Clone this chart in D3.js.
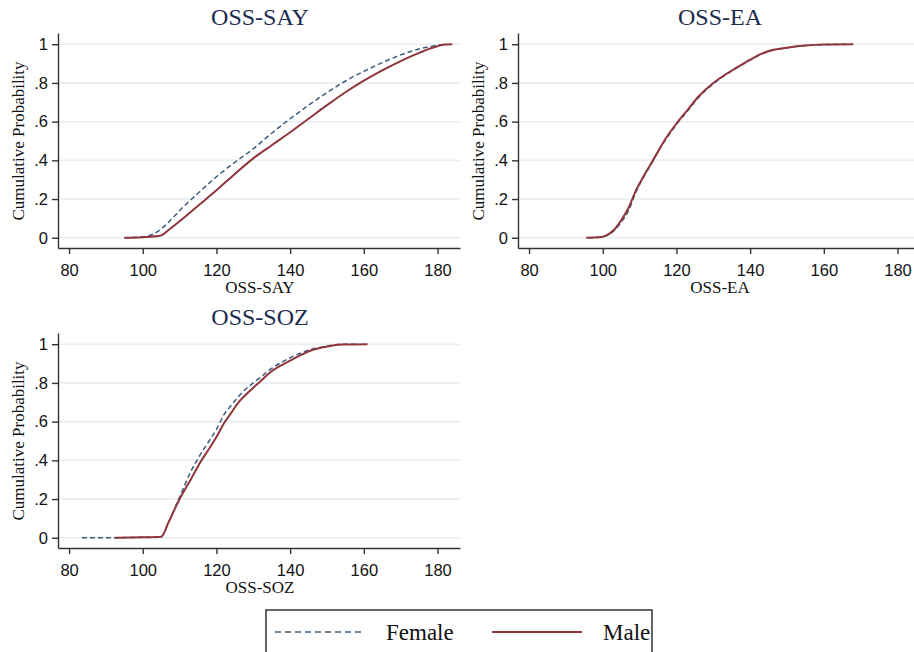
<!DOCTYPE html>
<html>
<head>
<meta charset="utf-8">
<script src="https://cdn.jsdelivr.net/npm/d3@7"></script>
<style>
  body { margin: 0; background: #fff; }
  svg { display: block; font-family: "Liberation Serif", "Times New Roman", serif; }
</style>
</head>
<body>
<div id="chart"></div>
<script>
// ticks shared by all three panels
const xTicks = [80, 100, 120, 140, 160, 180];
const yTicks = [0, 0.2, 0.4, 0.6, 0.8, 1];
const yTickLabels = ["0", ".2", ".4", ".6", ".8", "1"];

const panelNames = ["OSS-SAY", "OSS-EA", "OSS-SOZ"];
const seriesNames = ["Female", "Male"];

// OSS-SAY
const sayFemaleX = [95, 100, 103, 105, 108, 110, 115, 120, 125, 130, 135, 140, 145, 150, 155, 160, 165, 170, 175, 180, 182];
const sayFemaleP = [0, 0.005, 0.02, 0.045, 0.1, 0.14, 0.23, 0.315, 0.39, 0.46, 0.54, 0.615, 0.685, 0.75, 0.81, 0.86, 0.905, 0.945, 0.975, 0.995, 1];
const sayMaleX = [95, 100, 105, 107, 110, 115, 120, 125, 130, 135, 140, 145, 150, 155, 160, 165, 170, 175, 178, 180, 182, 184];
const sayMaleP = [0, 0.003, 0.012, 0.04, 0.085, 0.165, 0.245, 0.33, 0.41, 0.478, 0.545, 0.615, 0.685, 0.752, 0.812, 0.865, 0.913, 0.955, 0.978, 0.99, 0.998, 1];

// OSS-EA
const eaFemaleX = [96, 99, 101, 103, 105, 107, 109, 111, 113, 115, 117, 120, 123, 126, 130, 133, 136, 140, 143, 146, 150, 155, 160, 166];
const eaFemaleP = [0, 0.002, 0.01, 0.035, 0.08, 0.14, 0.235, 0.31, 0.375, 0.445, 0.505, 0.585, 0.655, 0.725, 0.795, 0.838, 0.873, 0.918, 0.948, 0.968, 0.982, 0.993, 0.998, 1];
const eaMaleX = [95.5, 99, 101, 103, 105, 107, 109, 111, 113, 115, 117, 120, 123, 126, 130, 133, 136, 140, 143, 146, 150, 155, 160, 168];
const eaMaleP = [0, 0.002, 0.012, 0.04, 0.09, 0.155, 0.245, 0.315, 0.38, 0.445, 0.51, 0.59, 0.66, 0.73, 0.8, 0.84, 0.875, 0.92, 0.95, 0.97, 0.982, 0.993, 0.998, 1];

// OSS-SOZ
const sozFemaleX = [83.5, 90, 100, 105, 107, 110, 113, 115, 118, 120, 122, 124, 126, 128, 130, 132, 135, 138, 140, 143, 146, 150, 154, 158];
const sozFemaleP = [0, 0, 0.002, 0.005, 0.08, 0.21, 0.34, 0.41, 0.5, 0.56, 0.635, 0.685, 0.73, 0.77, 0.8, 0.83, 0.875, 0.91, 0.93, 0.955, 0.975, 0.99, 1, 1];
const sozMaleX = [92.5, 100, 105, 107, 110, 113, 115, 118, 120, 122, 124, 126, 128, 130, 132, 135, 138, 140, 143, 146, 150, 154, 161];
const sozMaleP = [0, 0.002, 0.005, 0.08, 0.2, 0.3, 0.37, 0.46, 0.52, 0.59, 0.645, 0.7, 0.74, 0.775, 0.81, 0.86, 0.895, 0.915, 0.945, 0.97, 0.988, 0.998, 1];

const panelSeries = [
    [[sayFemaleX, sayFemaleP], [sayMaleX, sayMaleP]],
    [[eaFemaleX, eaFemaleP], [eaMaleX, eaMaleP]],
    [[sozFemaleX, sozFemaleP], [sozMaleX, sozMaleP]]
];

const width = 914;
const height = 652;
const colors = ["#3e5d7e", "#90353b"];
const dashes = ["5,3", null];
const strokeW = [1.5, 2];

// panel placement (plot area top-left)
const panelPos = [{ x: 58, y: 33 }, { x: 518, y: 33 }, { x: 58, y: 333 }];
const plotW = 402;
const plotH = 215;

const svg = d3.select("#chart")
    .append("svg")
    .attr("width", width)
    .attr("height", height)
    .attr("viewBox", `0 0 ${width} ${height}`);

const xScale = d3.scaleLinear().domain([77, 186.1]).range([0, plotW]);
const yScale = d3.scaleLinear().domain([-0.053, 1.058]).range([plotH, 0]);

const line = d3.line()
    .curve(d3.curveMonotoneX)
    .x((d) => xScale(d[0]))
    .y((d) => yScale(d[1]));

panelNames.forEach((name, i) => {
    const pos = panelPos[i];
    const g = svg.append("g").attr("transform", `translate(${pos.x}, ${pos.y})`);

    // gridlines
    g.selectAll(".grid")
        .data(yTicks)
        .enter()
        .append("line")
        .attr("x1", 0)
        .attr("x2", plotW)
        .attr("y1", (d) => yScale(d))
        .attr("y2", (d) => yScale(d))
        .attr("stroke", "#e5eef1")
        .attr("stroke-width", 1.5);

    // curves
    panelSeries[i].forEach((s, k) => {
        const pts = s[0].map((x, j) => [x, s[1][j]]);
        g.append("path")
            .datum(pts)
            .attr("d", line)
            .attr("fill", "none")
            .attr("stroke", colors[k])
            .attr("stroke-width", strokeW[k])
            .attr("stroke-dasharray", dashes[k]);
    });

    // x axis
    const xAxis = g.append("g")
        .attr("transform", `translate(0, ${plotH})`)
        .call(d3.axisBottom(xScale).tickValues(xTicks).tickSize(6).tickSizeOuter(0).tickPadding(10));
    xAxis.selectAll("text").style("font-size", "16.5px").attr("font-family", null).attr("fill", "#111");

    // y axis
    const yAxis = g.append("g")
        .call(d3.axisLeft(yScale).tickValues(yTicks).tickSize(6).tickSizeOuter(0).tickPadding(4)
            .tickFormat((d, j) => yTickLabels[j]));
    yAxis.selectAll("text").style("font-size", "16.5px").attr("font-family", null).attr("fill", "#111");

    g.selectAll(".domain, .tick line").attr("stroke", "#333").attr("stroke-width", 1.4);

    // panel title
    g.append("text")
        .attr("x", 202)
        .attr("y", -8)
        .attr("text-anchor", "middle")
        .style("font-size", "24px")
        .attr("fill", "#1c2c50")
        .text(name);

    // x axis title
    g.append("text")
        .attr("x", 202)
        .attr("y", plotH + 45)
        .attr("text-anchor", "middle")
        .style("font-size", "17px")
        .attr("fill", "#111")
        .text(name);

    // y axis title
    g.append("text")
        .attr("transform", `translate(${-34}, ${108}) rotate(-90)`)
        .attr("text-anchor", "middle")
        .style("font-size", "17px")
        .attr("fill", "#111")
        .text("Cumulative Probability");
});

// legend
const legend = svg.append("g").attr("transform", "translate(266, 610)");
legend.append("rect")
    .attr("x", 0)
    .attr("y", 0)
    .attr("width", 386)
    .attr("height", 60)
    .attr("fill", "#fff")
    .attr("stroke", "#333")
    .attr("stroke-width", 1.5);

const legendX = [9, 226];
seriesNames.forEach((n, k) => {
    legend.append("line")
        .attr("x1", legendX[k])
        .attr("x2", legendX[k] + 90)
        .attr("y1", 22)
        .attr("y2", 22)
        .attr("stroke", colors[k])
        .attr("stroke-width", strokeW[k])
        .attr("stroke-dasharray", k === 0 ? "6,4" : null);
    legend.append("text")
        .attr("x", legendX[k] + 111)
        .attr("y", 30)
        .style("font-size", "23px")
        .attr("fill", "#111")
        .text(n);
});
</script>
</body>
</html>
